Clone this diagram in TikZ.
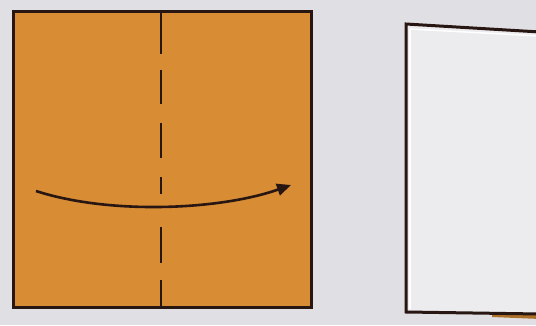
\documentclass[tikz,border=0pt]{standalone}
\usetikzlibrary{arrows.meta}
\definecolor{bg}{RGB}{224,224,228}
\definecolor{paperorange}{RGB}{216,140,52}
\definecolor{ink}{RGB}{40,22,18}
\definecolor{paperwhite}{RGB}{236,236,239}
\tikzset{
  outline/.style={draw=ink, line width=3pt, line join=miter},
  foldline/.style={draw=ink, line width=2.2pt},
  movearrow/.style={draw=ink, line width=2.6pt, -{Triangle[length=14pt,width=12pt]}},
}
\begin{document}
\begin{tikzpicture}[x=1pt,y=-1pt]
  \fill[bg] (0,0) rectangle (536,325);
  \useasboundingbox (0,0) rectangle (536,325);
  % left square
  \coordinate (sqtl) at (13,11);
  \coordinate (sqbr) at (311,307);
  \fill[paperorange] (sqtl) rectangle (sqbr);
  \foreach \ya/\yb in {13/54, 70/104, 123/158, 177/194, 227/263, 280/306}
    \path[foldline] (161,\ya) -- (161,\yb);
  \path[outline] (sqtl) rectangle (sqbr);
  % arrow
  \coordinate (arrstart) at (36,191);
  \coordinate (arrend) at (291,185);
  \path[movearrow] (arrstart) .. controls (110,215) and (220,210) .. (arrend);
  % right folded paper
  \coordinate (ptl) at (406,24);
  \coordinate (ptr) at (540,32);
  \coordinate (pbr) at (540,314);
  \coordinate (pbl) at (406,312);
  \fill[paperorange!80!black] (492,313) -- (540,313) -- (540,319) -- (492,317) -- cycle;
  \fill[paperwhite] (ptl) -- (ptr) -- (pbr) -- (pbl) -- cycle;
  \draw[white, line width=1.5pt] (410,29) -- (540,36);
  \draw[white, line width=1.5pt] (410,29) -- (410,309);
  \draw[ink, line width=3pt, line join=miter] (ptr) -- (ptl) -- (pbl) -- (pbr);
\end{tikzpicture}
\end{document}
